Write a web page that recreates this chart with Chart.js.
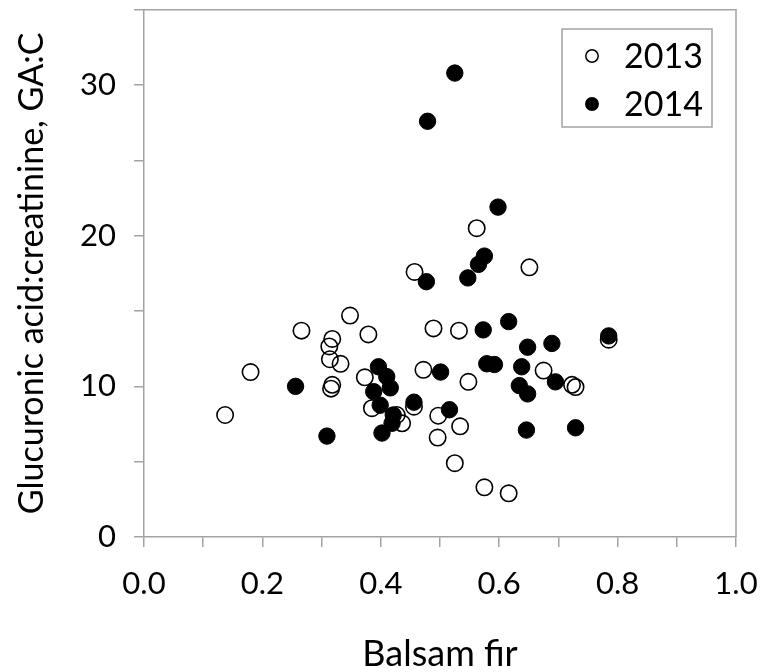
<!DOCTYPE html>
<html>
<head>
<meta charset="utf-8">
<script src="https://cdn.jsdelivr.net/npm/chart.js@4"></script>
<style>
  html, body { margin: 0; padding: 0; background: #fff; }
  canvas { display: block; }
</style>
</head>
<body>
<canvas id="grafico" width="760" height="672"></canvas>
<script>
// valores (x = Balsam fir, y = GA:C)
const x2013 = [0.137, 0.180, 0.266, 0.318, 0.313, 0.314, 0.332, 0.318, 0.316, 0.348,
               0.379, 0.373, 0.385, 0.427, 0.436, 0.456, 0.457, 0.472, 0.489, 0.497,
               0.496, 0.532, 0.534, 0.548, 0.525, 0.562, 0.575, 0.616, 0.651, 0.675,
               0.723, 0.729, 0.785];
const y2013 = [8.1, 10.95, 13.7, 13.15, 12.65, 11.8, 11.5, 10.1, 9.85, 14.7,
               13.45, 10.6, 8.55, 8.1, 7.55, 8.65, 17.6, 11.1, 13.85, 8.05,
               6.6, 13.7, 7.35, 10.3, 4.9, 20.5, 3.3, 2.9, 17.9, 11.05,
               10.1, 9.95, 13.1];

const x2014 = [0.525, 0.479, 0.598, 0.575, 0.565, 0.547, 0.477, 0.616, 0.573, 0.785,
               0.689, 0.648, 0.579, 0.592, 0.638, 0.501, 0.396, 0.410, 0.416, 0.388,
               0.256, 0.634, 0.695, 0.648, 0.456, 0.516, 0.399, 0.421, 0.419, 0.402,
               0.309, 0.646, 0.729];
const y2014 = [30.8, 27.6, 21.9, 18.65, 18.1, 17.2, 16.95, 14.3, 13.75, 13.35,
               12.85, 12.6, 11.5, 11.45, 11.3, 10.95, 11.3, 10.65, 9.9, 9.65,
               10.0, 10.05, 10.3, 9.5, 8.95, 8.45, 8.75, 8.1, 7.55, 6.9,
               6.7, 7.1, 7.25];

const seriesLabels = ['2013', '2014'];
const xTickLabels = ['0.0', '0.2', '0.4', '0.6', '0.8', '1.0'];
const yTickLabels = ['0', '10', '20', '30'];

const fonte = 'Lato';
const cinza = '#a3a3a3';

const pares = (xs, ys) => xs.map((x, i) => ({ x: x, y: ys[i] }));

// moldura em volta da area do grafico (topo e direita)
const moldura = {
    id: 'moldura',
    afterDraw(chart) {
        const a = chart.chartArea;
        const ctx = chart.ctx;
        ctx.save();
        ctx.strokeStyle = cinza;
        ctx.lineWidth = 1.5;
        ctx.beginPath();
        ctx.moveTo(a.left, a.top);
        ctx.lineTo(a.right, a.top);
        ctx.lineTo(a.right, a.bottom);
        ctx.stroke();
        ctx.restore();
    }
};

// legenda dentro do grafico, canto superior direito
const legendaInterna = {
    id: 'legendaInterna',
    afterDraw(chart) {
        const ctx = chart.ctx;
        const bx = 562, by = 29, bw = 150, bh = 98;
        ctx.save();
        ctx.fillStyle = '#fff';
        ctx.fillRect(bx, by, bw, bh);
        ctx.strokeStyle = cinza;
        ctx.lineWidth = 1.5;
        ctx.strokeRect(bx, by, bw, bh);
        chart.data.datasets.forEach((ds, i) => {
            const cy = by + 27 + i * 48;
            ctx.beginPath();
            ctx.arc(bx + 30, cy, 6.2, 0, Math.PI * 2);
            ctx.fillStyle = ds.backgroundColor;
            ctx.fill();
            ctx.lineWidth = 1.5;
            ctx.strokeStyle = '#000';
            ctx.stroke();
            ctx.fillStyle = '#000';
            ctx.font = `34px ${fonte}`;
            ctx.textBaseline = 'middle';
            ctx.textAlign = 'left';
            ctx.fillText(ds.label, bx + 62, cy + 1);
        });
        ctx.restore();
    }
};

new Chart(document.getElementById('grafico').getContext('2d'), {
    type: 'scatter',
    data: {
        datasets: [
            {
                label: seriesLabels[0],
                data: pares(x2013, y2013),
                backgroundColor: 'rgba(255,255,255,0)',
                borderColor: '#000',
                borderWidth: 1.6,
                pointRadius: 8.2,
                order: 1
            },
            {
                label: seriesLabels[1],
                data: pares(x2014, y2014),
                backgroundColor: '#000',
                borderColor: '#000',
                borderWidth: 1,
                pointRadius: 8.2,
                order: 0
            }
        ]
    },
    options: {
        responsive: false,
        animation: false,
        devicePixelRatio: 1,
        layout: { padding: { left: 0, top: 8, right: 24, bottom: 0 } },
        plugins: { legend: { display: false }, tooltip: { enabled: false } },
        scales: {
            x: {
                type: 'linear',
                min: 0, max: 1,
                afterFit: s => {
                    s.height = 135;
                    s.paddingLeft = 0;
                    s.paddingRight = 0;
                },
                ticks: {
                    stepSize: 0.1,
                    padding: 18,
                    color: '#000',
                    font: { family: fonte, size: 31 },
                    maxRotation: 0,
                    autoSkip: false,
                    callback: v => {
                        const k = Math.round(v * 10);
                        return k % 2 === 0 ? xTickLabels[k / 2] : '';
                    }
                },
                grid: { drawOnChartArea: false, drawTicks: true, tickLength: 10, color: cinza, lineWidth: 1.5 },
                border: { display: true, color: cinza, width: 1.5 },
                title: {
                    display: true,
                    text: 'Balsam fir',
                    color: '#000',
                    font: { family: fonte, size: 36, lineHeight: 1 },
                    padding: { top: 0, bottom: 0 }
                }
            },
            y: {
                type: 'linear',
                min: 0, max: 35,
                afterFit: s => {
                    s.width = 144;
                    s.paddingTop = 0;
                    s.paddingBottom = 0;
                },
                ticks: {
                    stepSize: 5,
                    padding: 18,
                    color: '#000',
                    font: { family: fonte, size: 31 },
                    autoSkip: false,
                    callback: v => (v % 10 === 0 ? yTickLabels[v / 10] : '')
                },
                grid: { drawOnChartArea: false, drawTicks: true, tickLength: 10, color: cinza, lineWidth: 1.5 },
                border: { display: true, color: cinza, width: 1.5 },
                title: {
                    display: true,
                    text: 'Glucuronic acid:creatinine, GA:C',
                    color: '#000',
                    font: { family: fonte, size: 34, lineHeight: 1.2 },
                    padding: { top: 12, bottom: 0 }
                }
            }
        }
    },
    plugins: [moldura, legendaInterna]
});
</script>
</body>
</html>
